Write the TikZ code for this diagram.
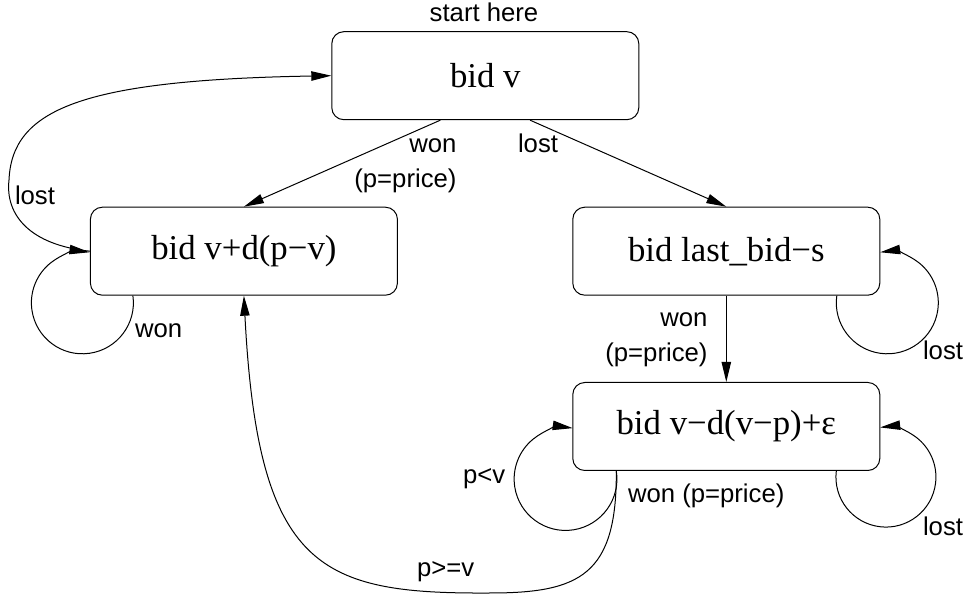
\documentclass[tikz,border=0pt]{standalone}
\usepackage{fontspec}
\setmainfont{Liberation Serif}
\newfontfamily\lblfamily{Liberation Sans}
\usetikzlibrary{arrows.meta}
\newcommand{\statefont}{\fontsize{17.4}{20}\selectfont}
\newcommand{\lblfont}{\lblfamily\fontsize{12.85}{17.5}\selectfont}
\tikzset{
  state/.style={draw, line width=0.5pt, rounded corners=6pt, minimum width=153.5pt, minimum height=44pt, inner sep=0pt, font=\statefont},
  lbl/.style={font=\lblfont, inner sep=0pt, outer sep=0pt},
  arr/.style={line width=0.5pt, -{Triangle[length=10pt,width=4.7pt]}},
}
\begin{document}
\begin{tikzpicture}[x=0.5pt,y=0.5pt]
\useasboundingbox (0,0) rectangle (969,-597);
% states
\node[state] (A) at (485.3,-75.7) {bid v};
\node[state] (B) at (243.9,-251.2) {bid v+d(p−v)};
\node[state] (C) at (726.3,-251.2) {bid last\_bid−s};
\node[state] (D) at (726.3,-426.5) {bid v−d(v−p)+ε};
% loop start points
\coordinate (bl) at ([xshift=21.5pt]B.south west);
\coordinate (cl) at ([xshift=-21.75pt]C.south east);
\coordinate (dl) at ([xshift=22pt]D.south west);
\coordinate (dr) at ([xshift=-22pt]D.south east);
\coordinate (as1) at ([xshift=-22.5pt]A.south);
\coordinate (as2) at ([xshift=22.4pt]A.south);
% connectors
\draw[arr] (as1) -- (B.north);
\draw[arr] (as2) -- (C.north);
\draw[arr] (B.west) .. controls (30,-245) and (5,-215) .. (9,-180)
                    .. controls (12,-110) and (80,-80) .. (A.west);
\draw[arr] (bl) arc[start angle=8, end angle=-278, radius=25.5pt];
\draw[arr] (cl) arc[start angle=172, end angle=458, radius=25.5pt];
\draw[arr] (C.south) -- (D.north);
\draw[arr] (dl) arc[start angle=9, end angle=-278, radius=25.7pt];
\draw[arr] (dr) arc[start angle=173, end angle=456.6, radius=25pt];
\draw[arr] (dl) .. controls (617,-575) and (580,-593) .. (490,-593)
                .. controls (320,-594) and (258,-570) .. (B.south);
% labels
\node[lbl, anchor=base] (t0) at (484,-21.5) {start here};
\node[lbl, anchor=base east, align=right] (t1) at (456.5,-187.5) {won\\(p=price)};
\node[lbl, anchor=base west] (t2) at (518,-152.7) {lost};
\node[lbl, anchor=base west] (t3) at (15,-205) {lost};
\node[lbl, anchor=base west] (t4) at (135,-338) {won};
\node[lbl, anchor=base east, align=right] (t5) at (707.5,-362) {won\\(p=price)};
\node[lbl, anchor=base west] (t6) at (923,-360) {lost};
\node[lbl, anchor=base west] (t7) at (463,-483.3) {p<v};
\node[lbl, anchor=base west] (t8) at (628,-503) {won (p=price)};
\node[lbl, anchor=base west] (t9) at (923,-535.5) {lost};
\node[lbl, anchor=base west] (t10) at (417,-576.5) {p>=v};
\end{tikzpicture}
\end{document}
